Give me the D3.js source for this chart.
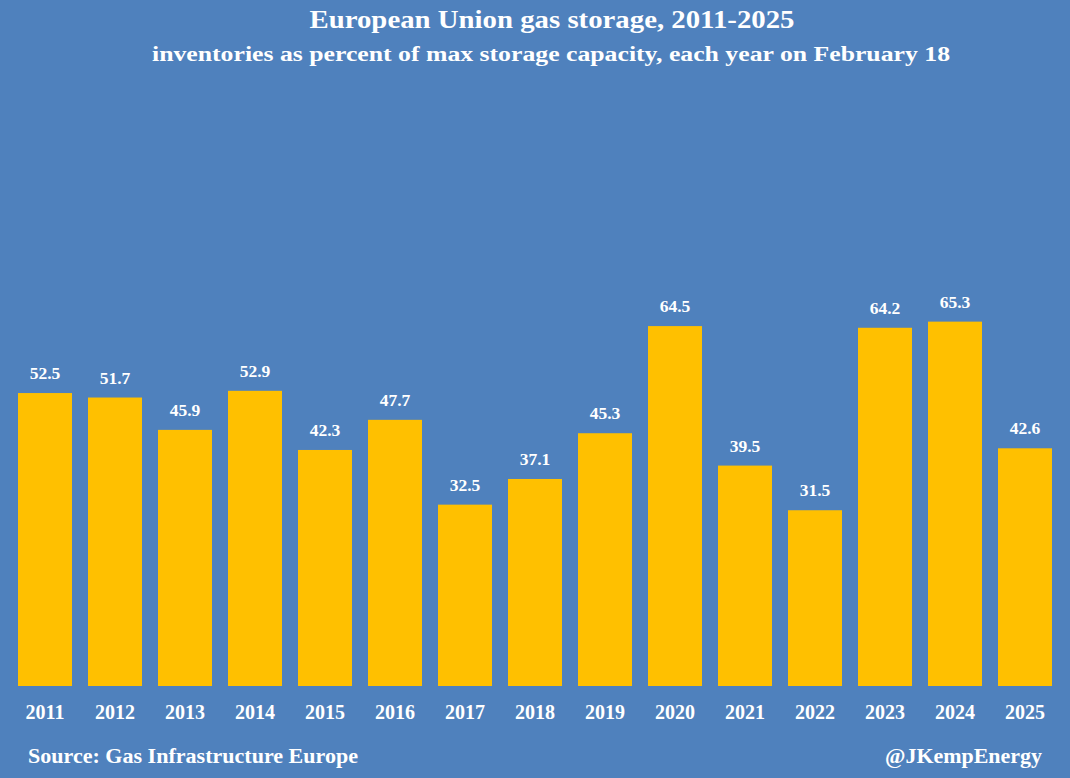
<!DOCTYPE html>
<html>
<head>
<meta charset="utf-8">
<script src="https://cdn.jsdelivr.net/npm/d3@7"></script>
<style>
  body { margin: 0; background: #4F81BD; }
  text { font-family: "Liberation Serif", "Times New Roman", serif; font-weight: bold; fill: #fff; }
</style>
</head>
<body>
<script>
// chart data
const years = ["2011","2012","2013","2014","2015","2016","2017","2018","2019","2020","2021","2022","2023","2024","2025"];
const storagePct = [52.5, 51.7, 45.9, 52.9, 42.3, 47.7, 32.5, 37.1, 45.3, 64.5, 39.5, 31.5, 64.2, 65.3, 42.6];

const W = 1070, H = 778;
const svg = d3.select("body").append("svg").attr("width", W).attr("height", H);
svg.append("rect").attr("width", W).attr("height", H).attr("fill", "#4F81BD");

const x = d3.scaleBand().domain(years).range([10, 1060])
  .paddingInner(16 / 70).paddingOuter(8 / 70);
const y = d3.scaleLinear().domain([0, 70]).range([686, 295.4]);

// bars
svg.selectAll("rect.bar").data(years).enter().append("rect")
  .attr("class", "bar")
  .attr("x", d => x(d))
  .attr("width", x.bandwidth())
  .attr("y", (d, i) => y(storagePct[i]))
  .attr("height", (d, i) => y(0) - y(storagePct[i]))
  .attr("fill", "#FFC000");

// value labels
svg.selectAll("text.val").data(years).enter().append("text")
  .attr("class", "val")
  .attr("x", d => x(d) + x.bandwidth() / 2)
  .attr("y", (d, i) => y(storagePct[i]) - 14)
  .attr("text-anchor", "middle")
  .style("font-size", "17.5px")
  .text((d, i) => storagePct[i].toFixed(1));

// year axis
const xAxis = svg.append("g").attr("transform", "translate(0,686)")
  .call(d3.axisBottom(x).tickSize(0).tickPadding(19));
xAxis.select(".domain").remove();
xAxis.selectAll("text")
  .style("font-size", "20px")
  .style("font-family", "\"Liberation Serif\", serif")
  .attr("fill", "#fff");

// titles
svg.append("text").attr("x", 552).attr("y", 28).attr("text-anchor", "middle")
  .style("font-size", "25px")
  .attr("textLength", 485).attr("lengthAdjust", "spacingAndGlyphs")
  .text("European Union gas storage, 2011-2025");
svg.append("text").attr("x", 551).attr("y", 61).attr("text-anchor", "middle")
  .style("font-size", "20px")
  .attr("textLength", 798).attr("lengthAdjust", "spacingAndGlyphs")
  .text("inventories as percent of max storage capacity, each year on February 18");

// footer
svg.append("text").attr("x", 28).attr("y", 763)
  .style("font-size", "20px")
  .attr("textLength", 330).attr("lengthAdjust", "spacingAndGlyphs")
  .text("Source: Gas Infrastructure Europe");
svg.append("text").attr("x", 1042).attr("y", 763).attr("text-anchor", "end")
  .style("font-size", "21px")
  .attr("textLength", 157).attr("lengthAdjust", "spacingAndGlyphs")
  .text("@JKempEnergy");
</script>
</body>
</html>
